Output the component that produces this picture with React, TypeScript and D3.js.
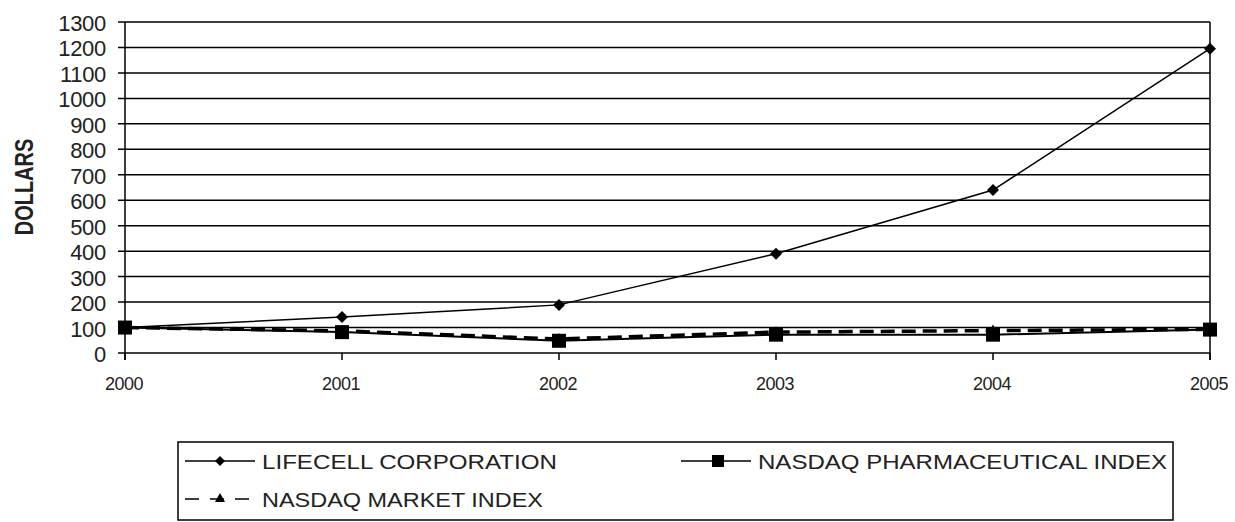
import * as d3 from "d3";

const years = [2000, 2001, 2002, 2003, 2004, 2005];
const lifecell = [100, 141, 189, 390, 640, 1195];
const pharma = [100, 82, 48, 72, 72, 92];
const market = [100, 87, 55, 82, 88, 93];
const yTicks = [0, 100, 200, 300, 400, 500, 600, 700, 800, 900, 1000, 1100, 1200, 1300];

const width = 1235;
const height = 522;
const left = 125;
const right = 1210;
const top = 22;
const bottom = 353;
const font = "Liberation Sans, Arial, sans-serif";

export default function App() {
  const x = d3.scalePoint<number>().domain(years).range([left, right]);
  const y = d3.scaleLinear().domain([0, 1300]).range([bottom, top]);
  const line = d3
    .line<number>()
    .x((_, i) => x(years[i]) ?? 0)
    .y((v) => y(v));

  const diamond = (cx: number, cy: number, r: number) =>
    `M${cx},${cy - r}L${cx + r},${cy}L${cx},${cy + r}L${cx - r},${cy}Z`;
  const triangle = (cx: number, cy: number, r: number) =>
    `M${cx},${cy - r}L${cx + r},${cy + r * 0.8}L${cx - r},${cy + r * 0.8}Z`;

  return (
    <svg
      width={width}
      height={height}
      viewBox={`0 0 ${width} ${height}`}
      style={{ position: "absolute", left: 0, top: 0, background: "#fff" }}
    >
      {yTicks.map((t) => (
        <g key={t}>
          <line stroke="#000" strokeWidth="1.5" x1={left - 7} x2={right} y1={y(t)} y2={y(t)} />
          <text
            fill="#222"
            fontFamily={font}
            fontSize="22"
            textAnchor="end"
            x={106}
            y={y(t) + 9}
            style={{ letterSpacing: "-0.3px" }}
          >
            {t}
          </text>
        </g>
      ))}
      <line stroke="#000" strokeWidth="1.5" x1={left} x2={left} y1={top} y2={bottom + 7} />
      <line stroke="#000" strokeWidth="1.5" x1={right} x2={right} y1={top} y2={bottom + 7} />
      {years.map((yr) => (
        <g key={yr}>
          <line stroke="#000" strokeWidth="1.5" x1={x(yr)} x2={x(yr)} y1={bottom} y2={bottom + 7} />
          <text
            fill="#222"
            fontFamily={font}
            fontSize="18"
            textAnchor="middle"
            x={(x(yr) ?? 0) - 1}
            y={390}
            style={{ letterSpacing: "-0.5px" }}
          >
            {yr}
          </text>
        </g>
      ))}
      <text
        fill="#222"
        fontFamily={font}
        fontSize="20"
        fontWeight="bold"
        textAnchor="middle"
        transform={`translate(33,187) rotate(-90) scale(1,1.3)`}
      >
        DOLLARS
      </text>

      {/* series */}
      <path d={line(market) ?? ""} fill="none" stroke="#000" strokeWidth="3.5" strokeDasharray="14 7" />
      <path d={line(pharma) ?? ""} fill="none" stroke="#000" strokeWidth="2" />
      <path d={line(lifecell) ?? ""} fill="none" stroke="#000" strokeWidth="1.5" />
      {market.map((v, i) => (
        <path key={`m${i}`} d={triangle(x(years[i]) ?? 0, y(v), 6)} fill="#000" />
      ))}
      {pharma.map((v, i) => (
        <rect key={`p${i}`} x={(x(years[i]) ?? 0) - 7} y={y(v) - 7} width="14" height="14" fill="#000" />
      ))}
      {lifecell.map((v, i) => (
        <path key={`l${i}`} d={diamond(x(years[i]) ?? 0, y(v), 6)} fill="#000" />
      ))}

      {/* legend */}
      <rect x="178" y="442" width="995" height="78" fill="none" stroke="#000" strokeWidth="1.5" />
      <line stroke="#000" strokeWidth="1.5" x1="185" x2="255" y1="461" y2="461" />
      <path d={diamond(220, 461, 5)} fill="#000" />
      <text fill="#222" fontFamily={font} fontSize="21" x="262" y="469" textLength="295" lengthAdjust="spacingAndGlyphs">
        LIFECELL CORPORATION
      </text>
      <line stroke="#000" strokeWidth="1.5" x1="681" x2="751" y1="461" y2="461" />
      <rect x="712" y="455" width="12" height="12" fill="#000" />
      <text fill="#222" fontFamily={font} fontSize="21" x="758" y="469" textLength="409" lengthAdjust="spacingAndGlyphs">
        NASDAQ PHARMACEUTICAL INDEX
      </text>
      <line stroke="#000" strokeWidth="1.5" x1="185" x2="255" y1="499" y2="499" strokeDasharray="14 11" />
      <path d={triangle(220, 498, 5)} fill="#000" />
      <text fill="#222" fontFamily={font} fontSize="21" x="262" y="507" textLength="281" lengthAdjust="spacingAndGlyphs">
        NASDAQ MARKET INDEX
      </text>
    </svg>
  );
}
